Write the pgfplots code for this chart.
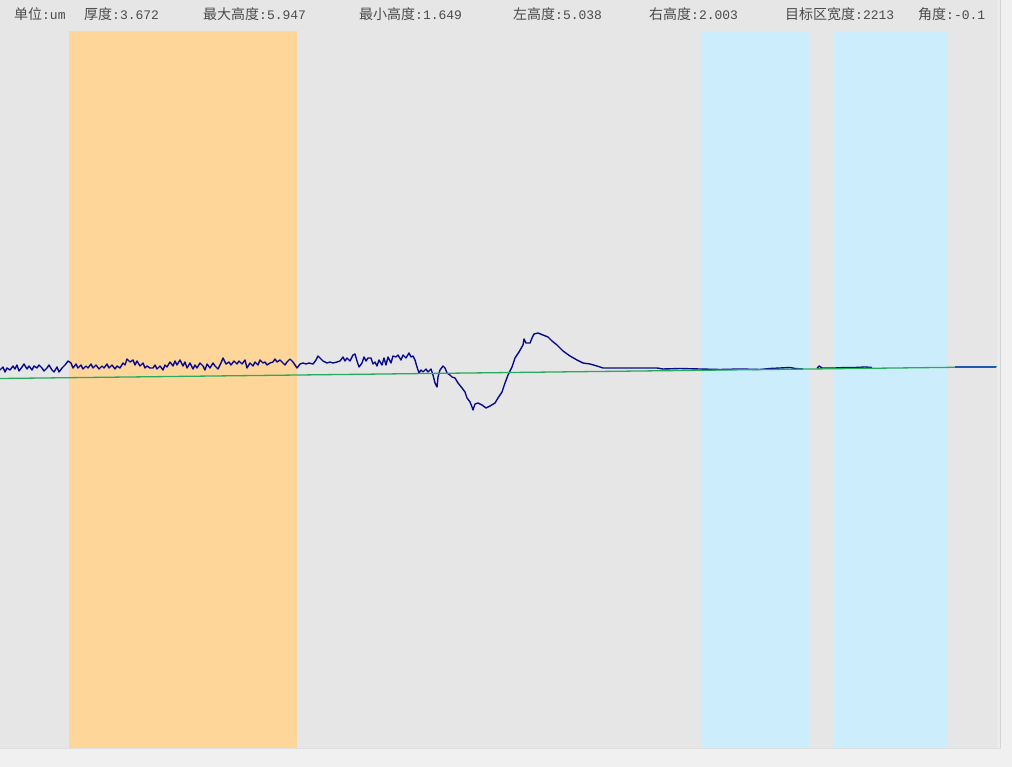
\documentclass[border=0pt]{standalone}
\usepackage{fontspec}
\setmainfont{Liberation Mono}
\newfontfamily\cjk{Noto Sans CJK SC}
\usepackage{pgfplots}
\usepackage{pgfplotstable}
\pgfplotsset{compat=1.18}
\definecolor{pagebg}{RGB}{240,240,240}
\definecolor{plotbg}{RGB}{230,230,230}
\definecolor{bandorange}{RGB}{254,214,154}
\definecolor{bandblue}{RGB}{204,238,252}
\definecolor{profile}{RGB}{10,10,140}
\definecolor{profileend}{RGB}{30,90,180}
\definecolor{baseline}{RGB}{40,170,95}
\definecolor{txt}{RGB}{75,75,75}
\definecolor{edge}{RGB}{212,212,212}
\newcommand{\hd}[2]{{\fontsize{14}{15}\selectfont\cjk #1}{\fontsize{13}{15}\selectfont #2}}

\pgfplotstableread{
x y
0 370
3 367
5 372
7 368
10 370
13 366
15 369
17 365
19 371
22 367
24 364
27 369
29 366
32 370
34 366
37 368
39 365
42 368
44 371
47 368
49 365
52 370
54 372
57 367
59 372
62 368
65 365
68 361
71 363
73 368
76 364
78 368
81 365
83 369
86 366
88 368
91 364
93 368
96 365
99 369
102 366
104 368
107 364
109 368
112 365
115 369
117 366
120 368
123 363
125 365
127 359
130 362
133 360
135 365
137 361
140 366
143 363
145 368
147 366
150 368
153 368
155 365
157 369
160 366
163 370
165 365
167 367
170 362
173 366
175 361
177 365
180 360
183 366
185 362
187 368
190 363
193 369
195 365
197 368
200 363
203 366
205 370
207 364
210 368
213 363
215 366
218 369
221 363
223 358
226 364
229 362
231 365
234 361
237 364
239 361
242 364
245 360
247 368
250 363
253 366
255 362
258 365
260 360
263 363
265 362
267 365
270 363
273 362
275 359
277 362
280 360
283 363
285 365
287 362
290 359
293 362
295 365
297 368
300 364
303 363
306 364
309 363
313 364
316 360
318 356
321 359
323 361
327 363
330 362
333 363
337 362
340 361
343 357
345 361
347 358
350 361
353 355
355 354
357 361
359 367
362 363
364 357
366 361
368 358
371 358
373 364
375 362
377 366
379 360
382 365
384 358
386 365
388 357
391 363
393 356
396 357
398 355
401 360
403 355
406 358
409 353
411 357
413 356
415 360
417 367
419 373
421 370
423 372
426 369
428 372
431 369
433 375
435 383
437 387
438 377
440 370
443 366
445 368
447 373
450 375
452 377
455 378
458 383
462 388
465 392
467 398
470 402
472 407
473 410
475 404
478 403
482 405
486 408
490 406
495 403
498 398
502 392
505 383
508 375
512 367
515 358
519 352
523 345
524 339
526 343
530 343
532 338
534 334
538 333
543 335
548 337
552 341
557 345
563 351
570 356
577 360
583 363
590 364
597 366
603 368
613 368
623 368
630 368
643 368
657 368
663 369
680 368.5
700 369
720 369.5
740 369
760 369.5
770 368.5
780 368
790 367.5
795 368.5
803 369
}\profileA

\pgfplotstableread{
x y
817 368.5
819 366
822 368
835 368
845 367.5
855 367.5
865 367
872 367.5
}\profileB

\pgfplotstableread{
x y
955 367
996 367
}\profileC

\pgfplotstableread{
x y
0 378.5
997 366.8
}\baselinetab

\begin{document}
\begin{tikzpicture}
\begin{axis}[
  scale only axis, width=1012pt, height=767pt,
  xmin=0, xmax=1012, ymin=0, ymax=767, y dir=reverse,
  hide axis, clip=true,
]
% page and plot backgrounds
\addplot[fill=pagebg, draw=none] coordinates {(0,0) (1012,0) (1012,767) (0,767)} -- cycle;
\addplot[fill=plotbg, draw=none] coordinates {(0,0) (997,0) (997,748) (0,748)} -- cycle;
\addplot[fill=plotbg!50!pagebg, draw=none] coordinates {(997,0) (1000,0) (1000,748) (997,748)} -- cycle;
\addplot[draw=edge, line width=1pt] coordinates {(1000.5,0) (1000.5,749)};
\addplot[draw=edge!60!pagebg, line width=0.8pt] coordinates {(0,748.4) (1000.5,748.4)};
% bands
\addplot[fill=bandorange, draw=none] coordinates {(69,31) (297,31) (297,748) (69,748)} -- cycle;
\addplot[fill=bandblue, draw=none] coordinates {(701,31) (809,31) (809,748) (701,748)} -- cycle;
\addplot[fill=bandblue, draw=none] coordinates {(834,31) (947,31) (947,748) (834,748)} -- cycle;
% profile
\addplot[draw=profile, line width=1.4pt, line join=round] table[x=x,y=y] {\profileA};
\addplot[draw=profile, line width=1.4pt, line join=round] table[x=x,y=y] {\profileB};
\addplot[draw=baseline, line width=1.3pt] table[x=x,y=y] {\baselinetab};
\addplot[draw=profileend, line width=2.2pt] table[x=x,y=y] {\profileC};
% header
\node[anchor=base west, inner sep=0, text=txt] at (axis cs:14,19.5) {\hd{单位}{:um}};
\node[anchor=base west, inner sep=0, text=txt] at (axis cs:84,19.5) {\hd{厚度}{:3.672}};
\node[anchor=base west, inner sep=0, text=txt] at (axis cs:203,19.5) {\hd{最大高度}{:5.947}};
\node[anchor=base west, inner sep=0, text=txt] at (axis cs:359,19.5) {\hd{最小高度}{:1.649}};
\node[anchor=base west, inner sep=0, text=txt] at (axis cs:513,19.5) {\hd{左高度}{:5.038}};
\node[anchor=base west, inner sep=0, text=txt] at (axis cs:649,19.5) {\hd{右高度}{:2.003}};
\node[anchor=base west, inner sep=0, text=txt] at (axis cs:785,19.5) {\hd{目标区宽度}{:2213}};
\node[anchor=base west, inner sep=0, text=txt] at (axis cs:918,19.5) {\hd{角度}{:-0.1}};
\end{axis}
\end{tikzpicture}
\end{document}
